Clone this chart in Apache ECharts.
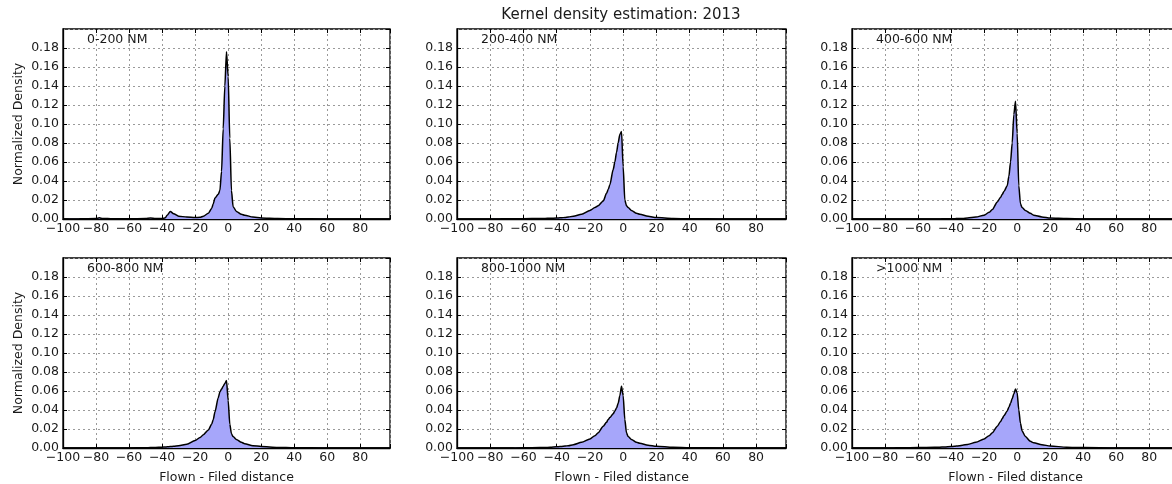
<!DOCTYPE html>
<html lang="en">
<head>
    <meta charset="UTF-8">
    <title>Kernel density estimation: 2013</title>
    <script src="https://cdn.jsdelivr.net/npm/echarts@6/dist/echarts.min.js"></script>
    <style>
        html, body { margin: 0; padding: 0; background: #fff; }
    </style>
</head>
<body>
    <div id="main" style="width: 1172px; height: 484px;"></div>

    <script type="text/javascript">
        // x positions (flown - filed distance, NM) shared by all six curves
        var distance = [-100, -90, -80, -78, -76, -70, -60, -50, -47, -44,
            -40, -38, -37, -35, -33, -30, -25, -20, -17, -15,
            -12, -10, -9, -8, -6, -5, -4, -3, -2, -1,
            0, 1, 2, 3, 5, 8, 10, 15, 20, 30,
            40, 60, 80, 98];

        // density values, one array per distance band
        var band0to200 = [0, 0.0002, 0.0004, 0.0012, 0.0006, 0.0002, 0.0002, 0.0005, 0.001, 0.0005,
            0.0004, 0.0012, 0.004, 0.008, 0.0055, 0.003, 0.002, 0.0015, 0.0018, 0.003,
            0.006, 0.011, 0.016, 0.022, 0.026, 0.03, 0.05, 0.095, 0.14, 0.176,
            0.15, 0.085, 0.03, 0.013, 0.008, 0.005, 0.004, 0.002, 0.001, 0.0004,
            0.0002, 0.0001, 0, 0];
        var band200to400 = [0, 0, 0.0001, 0.0001, 0.0001, 0.0002, 0.0003, 0.0005, 0.0006, 0.0008,
            0.001, 0.0012, 0.0013, 0.0016, 0.002, 0.003, 0.005, 0.009, 0.012, 0.014,
            0.019, 0.027, 0.031, 0.036, 0.052, 0.06, 0.07, 0.08, 0.089, 0.092,
            0.055, 0.02, 0.014, 0.012, 0.009, 0.006, 0.005, 0.0028, 0.0015, 0.0005,
            0.0002, 0.0001, 0, 0];
        var band400to600 = [0, 0, 0, 0, 0, 0, 0, 0.0001, 0.0001, 0.0002,
            0.0003, 0.0003, 0.0004, 0.0005, 0.0006, 0.001, 0.002, 0.004, 0.007, 0.01,
            0.018, 0.023, 0.026, 0.029, 0.035, 0.045, 0.06, 0.08, 0.11, 0.124,
            0.09, 0.035, 0.016, 0.012, 0.009, 0.006, 0.004, 0.0022, 0.001, 0.0004,
            0.0001, 0, 0, 0];
        var band600to800 = [0, 0, 0, 0, 0, 0, 0.0001, 0.0003, 0.0004, 0.0006,
            0.0009, 0.0011, 0.0012, 0.0015, 0.0018, 0.0024, 0.004, 0.008, 0.011, 0.014,
            0.019, 0.025, 0.03, 0.038, 0.053, 0.059, 0.062, 0.065, 0.068, 0.071,
            0.05, 0.025, 0.015, 0.012, 0.009, 0.006, 0.0045, 0.0025, 0.0015, 0.0006,
            0.0002, 0.0001, 0, 0];
        var band800to1000 = [0, 0, 0, 0, 0, 0, 0.0002, 0.0004, 0.0005, 0.0008,
            0.0012, 0.0015, 0.0017, 0.002, 0.0025, 0.0035, 0.006, 0.0095, 0.013, 0.016,
            0.023, 0.027, 0.03, 0.032, 0.036, 0.039, 0.042, 0.047, 0.055, 0.065,
            0.055, 0.03, 0.016, 0.012, 0.009, 0.006, 0.005, 0.003, 0.0018, 0.0007,
            0.0003, 0.0001, 0, 0];
        var bandOver1000 = [0, 0, 0.0001, 0.0001, 0.0001, 0.0002, 0.0004, 0.0008, 0.0009, 0.0011,
            0.0015, 0.0018, 0.002, 0.0024, 0.003, 0.0038, 0.006, 0.0095, 0.013, 0.016,
            0.023, 0.028, 0.031, 0.034, 0.039, 0.043, 0.047, 0.052, 0.057, 0.062,
            0.058, 0.04, 0.026, 0.018, 0.012, 0.007, 0.0055, 0.0035, 0.002, 0.0009,
            0.0004, 0.0001, 0, 0];

        var panelNames = ['0-200 NM', '200-400 NM', '400-600 NM', '600-800 NM', '800-1000 NM', '>1000 NM'];
        var panelValues = [band0to200, band200to400, band400to600, band600to800, band800to1000, bandOver1000];
        var xTicks = [-100, -80, -60, -40, -20, 0, 20, 40, 60, 80];
        var yTicks = ['0.00', '0.02', '0.04', '0.06', '0.08', '0.10', '0.12', '0.14', '0.16', '0.18'];

        // panel boxes in pixels (matplotlib 2x3 subplot layout)
        var colLeft = [63, 457, 852];
        var colWidth = [327, 329, 327];
        var rowTop = [29, 258];
        var rowHeight = 190;

        var font = 'DejaVu Sans';
        var ink = '#1a1a1a';
        var fs = 12.5;

        var grids = [], xAxes = [], yAxes = [], series = [], graphics = [];

        function xLabel(v) {
            if (xTicks.indexOf(v) < 0) return '';
            return String(v).replace('-', '\u2212');
        }
        function yLabel(v) {
            var s = v.toFixed(2);
            return yTicks.indexOf(s) < 0 ? '' : s;
        }

        for (var i = 0; i < 6; i++) {
            var row = Math.floor(i / 3), col = i % 3;
            grids.push({
                left: colLeft[col], top: rowTop[row], width: colWidth[col], height: rowHeight,
                show: true, borderColor: '#000', borderWidth: 1.3, backgroundColor: '#fff',
                containLabel: false, outerBoundsMode: 'none'
            });
            // bottom x axis with labels
            xAxes.push({
                type: 'value', gridIndex: i, min: -100, max: 98, interval: 20,
                name: row === 1 ? 'Flown - Filed distance' : '',
                nameLocation: 'middle', nameGap: 23,
                nameTextStyle: { fontFamily: font, fontSize: fs, color: ink },
                axisLine: { show: true, onZero: false, lineStyle: { color: '#000', width: 1.3 } },
                axisTick: { show: true, inside: true, length: 4, lineStyle: { color: '#000' } },
                axisLabel: { formatter: xLabel, fontFamily: font, fontSize: fs, color: ink, margin: 3,
                    showMinLabel: true, showMaxLabel: true, hideOverlap: false },
                splitLine: { show: true, lineStyle: { color: '#9a9a9a', type: [2, 3], width: 1 } }
            });
            // top x axis: tick marks only
            xAxes.push({
                type: 'value', gridIndex: i, position: 'top', min: -100, max: 98, interval: 20,
                axisLine: { show: false, onZero: false },
                axisTick: { show: true, inside: true, length: 4, lineStyle: { color: '#000' } },
                axisLabel: { show: false }, splitLine: { show: false }
            });
            yAxes.push({
                type: 'value', gridIndex: i, min: 0, max: 0.2, interval: 0.02,
                name: col === 0 ? 'Normalized Density' : '',
                nameLocation: 'middle', nameGap: 38,
                nameTextStyle: { fontFamily: font, fontSize: fs, color: ink },
                axisLine: { show: true, onZero: false, lineStyle: { color: '#000', width: 1.3 } },
                axisTick: { show: true, inside: true, length: 4, lineStyle: { color: '#000' } },
                axisLabel: { formatter: yLabel, fontFamily: font, fontSize: fs, color: ink, margin: 4,
                    showMaxLabel: false, hideOverlap: false },
                splitLine: { show: true, lineStyle: { color: '#9a9a9a', type: [2, 3], width: 1 } }
            });
            // right y axis: tick marks only
            yAxes.push({
                type: 'value', gridIndex: i, position: 'right', min: 0, max: 0.2, interval: 0.02,
                axisLine: { show: false, onZero: false },
                axisTick: { show: true, inside: true, length: 4, lineStyle: { color: '#000' } },
                axisLabel: { show: false }, splitLine: { show: false }
            });

            var pts = [];
            for (var k = 0; k < distance.length; k++) {
                pts.push([distance[k], panelValues[i][k]]);
            }
            series.push({
                type: 'line', name: panelNames[i],
                xAxisIndex: i * 2, yAxisIndex: i * 2,
                data: pts, smooth: 0.25, smoothMonotone: 'x',
                showSymbol: false, symbol: 'none', silent: true,
                lineStyle: { color: '#000', width: 1.5 },
                areaStyle: { color: '#a6a6fa', opacity: 1 },
                z: 3
            });

            graphics.push({
                type: 'text', left: colLeft[col] + 24, top: rowTop[row] + 4, z: 100,
                style: { text: panelNames[i], font: fs + 'px "' + font + '"', fill: ink }
            });
        }

        graphics.push({
            type: 'text', x: 621, y: 8, z: 100,
            style: { text: 'Kernel density estimation: 2013', font: '15px "' + font + '"',
                fill: ink, textAlign: 'center', textVerticalAlign: 'top' }
        });

        var myChart = echarts.init(document.getElementById('main'));
        myChart.setOption({
            animation: false,
            backgroundColor: '#fff',
            grid: grids,
            xAxis: xAxes,
            yAxis: yAxes,
            series: series,
            graphic: graphics
        });
    </script>
</body>
</html>
